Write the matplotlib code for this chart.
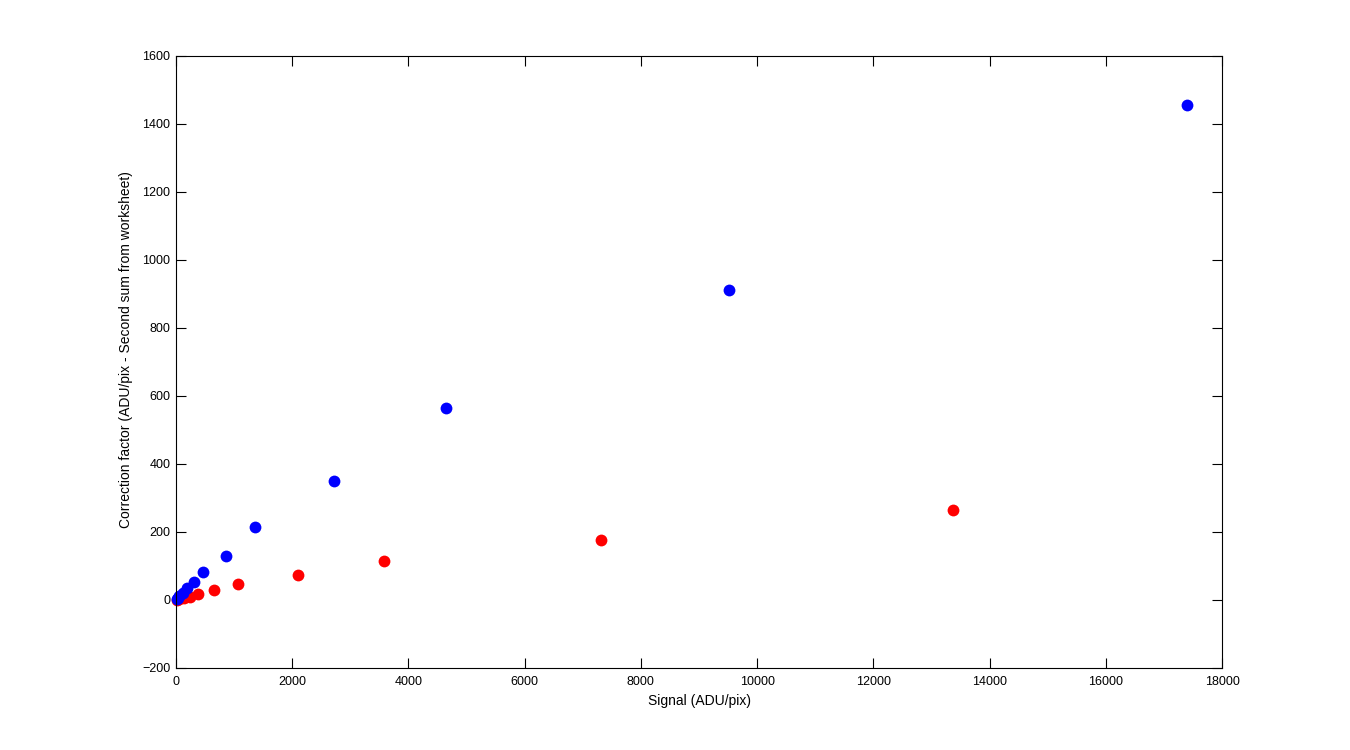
import matplotlib
matplotlib.use("Agg")
import matplotlib.pyplot as plt

plt.rcParams['font.family'] = ['Liberation Sans', 'DejaVu Sans']

blue_x = [17400, 9516, 4646, 2719, 1359, 860, 465, 310, 189, 120, 60, 30, 10]
blue_y = [1456, 912, 565, 350, 215, 129, 82, 53, 35, 22, 12, 6, 2]
red_x = [13371, 7314, 3579, 2100, 1067, 654, 379, 241, 130, 60, 20]
red_y = [265, 176, 115, 74, 47, 29, 18, 9, 5, 3, 1]

xticks = list(range(0, 18001, 2000))
yticks = list(range(-200, 1601, 200))

fig = plt.figure(figsize=(13.5, 7.5), dpi=100)
ax = fig.add_axes([176/1350, 82/750, 1046/1350, 612/750])
ax.plot(red_x, red_y, 'o', color='#ff0000', markersize=8.5, markeredgewidth=0, clip_on=False)
ax.plot(blue_x, blue_y, 'o', color='#0000ff', markersize=8.5, markeredgewidth=0, clip_on=False)
ax.set_xlim(0, 18000)
ax.set_ylim(-200, 1600)
ax.set_xticks(xticks)
ax.set_yticks(yticks)
ax.tick_params(direction='in', top=True, right=True, length=7, width=0.8, labelsize=9)
ax.tick_params(axis='x', pad=6)
ax.tick_params(axis='y', pad=4)
for s in ax.spines.values():
    s.set_linewidth(0.8)
ax.set_xlabel('Signal (ADU/pix)', fontsize=10, labelpad=4)
ax.set_ylabel('Correction factor (ADU/pix - Second sum from worksheet)', fontsize=10)
ax.yaxis.set_label_coords(-0.041, 0.52)
fig.savefig('out.png', dpi=100)
